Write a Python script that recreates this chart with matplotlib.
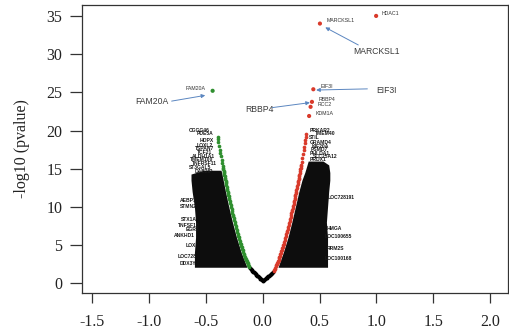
import matplotlib
matplotlib.use("Agg")
import matplotlib.pyplot as plt

plt.rcParams['axes.unicode_minus'] = False

# ---------------- data ----------------
# down-regulated (green) genes: log2 fold change and -log10(p)
green_lfc = [-0.397, -0.394, -0.389, -0.384, -0.376, -0.372, -0.367, -0.361, -0.356, -0.351,
             -0.349, -0.346, -0.344, -0.342, -0.340, -0.337, -0.335, -0.332, -0.329, -0.326,
             -0.324, -0.322, -0.319, -0.316, -0.313, -0.310, -0.307, -0.304, -0.301, -0.299,
             -0.296, -0.293, -0.289, -0.286, -0.282, -0.278, -0.274, -0.270, -0.266, -0.262,
             -0.258, -0.254, -0.250, -0.246, -0.242, -0.238, -0.233, -0.229, -0.224, -0.220,
             -0.215, -0.210, -0.205, -0.200, -0.196, -0.192, -0.188, -0.184, -0.180, -0.175,
             -0.171, -0.166, -0.161, -0.156, -0.153, -0.149, -0.145, -0.141, -0.137, -0.133,
             -0.130, -0.126, -0.122, -0.118]
green_p = [19.2, 18.9, 18.5, 18.0, 17.4, 17.0, 16.6, 16.1, 15.7, 15.3,
           15.1, 14.9, 14.75, 14.6, 14.4, 14.2, 14.0, 13.8, 13.6, 13.4,
           13.25, 13.1, 12.85, 12.6, 12.4, 12.2, 12.0, 11.8, 11.6, 11.4,
           11.2, 11.0, 10.75, 10.5, 10.25, 10.0, 9.75, 9.5, 9.25, 9.0,
           8.75, 8.5, 8.25, 8.0, 7.75, 7.5, 7.25, 7.0, 6.75, 6.5,
           6.25, 6.0, 5.75, 5.5, 5.3, 5.1, 4.9, 4.7, 4.5, 4.3,
           4.1, 3.9, 3.7, 3.5, 3.35, 3.2, 3.05, 2.9, 2.75, 2.6,
           2.475, 2.35, 2.225, 2.1]

# up-regulated (red) genes
red_lfc = [0.384, 0.381, 0.376, 0.371, 0.366, 0.361, 0.355, 0.349, 0.343, 0.338,
           0.336, 0.334, 0.331, 0.329, 0.326, 0.322, 0.320, 0.317, 0.315, 0.312,
           0.310, 0.307, 0.304, 0.300, 0.297, 0.294, 0.291, 0.288, 0.285, 0.283,
           0.280, 0.277, 0.274, 0.271, 0.268, 0.264, 0.260, 0.257, 0.253, 0.249,
           0.245, 0.241, 0.237, 0.233, 0.229, 0.225, 0.220, 0.216, 0.212, 0.207,
           0.203, 0.198, 0.193, 0.189, 0.185, 0.181, 0.177, 0.173, 0.168, 0.164,
           0.160, 0.155, 0.151, 0.146, 0.143, 0.139, 0.135, 0.131, 0.127, 0.123,
           0.119, 0.115, 0.111, 0.106, 0.101, 0.096]
red_p = [19.5, 19.2, 18.8, 18.3, 17.9, 17.4, 16.9, 16.4, 15.9, 15.5,
         15.3, 15.1, 14.9, 14.7, 14.45, 14.2, 14.0, 13.8, 13.6, 13.4,
         13.2, 13.0, 12.75, 12.5, 12.25, 12.0, 11.8, 11.6, 11.4, 11.2,
         11.0, 10.8, 10.6, 10.4, 10.15, 9.9, 9.65, 9.4, 9.15, 8.9,
         8.65, 8.4, 8.15, 7.9, 7.65, 7.4, 7.15, 6.9, 6.65, 6.4,
         6.15, 5.9, 5.65, 5.4, 5.2, 5.0, 4.8, 4.6, 4.4, 4.2,
         4.0, 3.8, 3.6, 3.4, 3.25, 3.1, 2.95, 2.8, 2.65, 2.5,
         2.35, 2.2, 2.05, 1.9, 1.75, 1.6]

# not significant (black)
ns_lfc = [-0.112, -0.105, -0.098, -0.091, -0.084, -0.077, -0.070, -0.063, -0.056, -0.049,
          -0.042, -0.035, -0.028, -0.021, -0.014, -0.007, 0.0, 0.007, 0.014, 0.021,
          0.028, 0.035, 0.042, 0.049, 0.056, 0.063, 0.070, 0.077, 0.084, 0.091]
ns_p = [1.95, 1.85, 1.74, 1.64, 1.54, 1.43, 1.33, 1.23, 1.12, 1.02,
        0.92, 0.81, 0.71, 0.61, 0.51, 0.40, 0.30, 0.39, 0.48, 0.56,
        0.65, 0.74, 0.83, 0.92, 1.00, 1.09, 1.18, 1.27, 1.36, 1.45]

# highlighted genes
top_genes = ["HDAC1", "MARCKSL1", "EIF3I", "RBBP4", "RCC2", "KDM1A", "FAM20A"]
top_lfc = [0.997, 0.503, 0.445, 0.433, 0.421, 0.408, -0.440]
top_p = [35.0, 34.0, 25.4, 23.75, 23.1, 21.9, 25.2]
top_colors = ["#d93a2b"] * 6 + ["#2f8f2f"]

# callouts: gene, label x, label y, arrow tail x/y, arrow head x/y
call_genes = ["MARCKSL1", "EIF3I", "RBBP4", "FAM20A"]
call_lx = [1.00, 1.09, -0.03, -0.975]
call_ly = [30.3, 25.3, 22.7, 23.8]
call_tx = [0.84, 0.92, 0.085, -0.80]
call_ty = [31.2, 25.45, 23.0, 23.85]
call_hx = [0.55, 0.47, 0.415, -0.505]
call_hy = [33.5, 25.3, 23.65, 24.6]

# dense overlapping gene-label region (extent)
lband_y = [2.1, 4.0, 6.0, 8.0, 10.0, 12.0, 13.5, 14.3, 14.8]
lband_in = [-0.138, -0.188, -0.230, -0.266, -0.298, -0.327, -0.347, -0.358, -0.366]
lband_out = [-0.60, -0.60, -0.59, -0.59, -0.60, -0.62, -0.63, -0.63, -0.52]
rband_y = [2.1, 4.0, 6.0, 8.0, 10.0, 12.0, 13.5, 14.5, 15.5, 16.0]
rband_in = [0.135, 0.180, 0.222, 0.256, 0.287, 0.318, 0.345, 0.370, 0.390, 0.400]
rband_out = [0.57, 0.57, 0.57, 0.56, 0.57, 0.58, 0.59, 0.59, 0.58, 0.53]

# gene labels visible around the dense region
left_labels = ["CGGG46", "PDE5A", "HOPX", "LOXL2", "TSPAN7", "TCF21", "ALDH1A1", "TMEM100",
               "TNFRSF11", "ST3GAL5", "DAB2IP", "AEBP1", "STMN2", "STX1A", "TNFSF10", "EGR3",
               "ANKHD1", "LOX", "LOC728", "DDX3Y"]
left_lx = [-0.47, -0.43, -0.43, -0.44, -0.43, -0.44, -0.42, -0.43,
           -0.40, -0.45, -0.44, -0.58, -0.58, -0.58, -0.55, -0.56,
           -0.60, -0.59, -0.58, -0.58]
left_ly = [19.95, 19.55, 18.7, 18.1, 17.6, 17.1, 16.6, 16.15,
           15.7, 15.1, 14.6, 10.9, 10.0, 8.3, 7.6, 7.0,
           6.2, 4.9, 3.5, 2.6]
right_labels = ["PRKAR2", "TMEM40", "STIL", "GRAMD4", "KIF20A", "PSMD7", "PHLDA1", "SLC25A12",
                "PRDX1", "LOC728191", "HMGA", "LOC100655", "RRM2S", "LOC100168"]
right_lx = [0.41, 0.46, 0.41, 0.41, 0.43, 0.42, 0.41, 0.44,
            0.41, 0.57, 0.56, 0.54, 0.56, 0.54]
right_ly = [19.95, 19.6, 19.05, 18.45, 17.95, 17.45, 16.95, 16.6,
            16.2, 11.25, 7.2, 6.1, 4.6, 3.3]

xticks = [-1.5, -1.0, -0.5, 0.0, 0.5, 1.0, 1.5, 2.0]
yticks = [0, 5, 10, 15, 20, 25, 30, 35]

# ---------------- figure ----------------
fig = plt.figure(figsize=(5.09, 3.31), dpi=100)
ax = fig.add_axes([82 / 509, 38 / 331, 426 / 509, 288 / 331])
ax.set_xlim(-1.588, 2.156)
ax.set_ylim(-1.27, 36.43)

# dense label masses
ax.fill_betweenx(lband_y, lband_out, lband_in, color="#0d0d0d", lw=0, zorder=2)
ax.fill_betweenx(rband_y, rband_in, rband_out, color="#0d0d0d", lw=0, zorder=2)

lab_font = dict(family="Liberation Sans", fontsize=3.6, color="#1a1a1a", fontweight="bold")
for t, x, y in zip(left_labels, left_lx, left_ly):
    ax.text(x, y, t, ha="right", va="center", zorder=3, **lab_font)
for t, x, y in zip(right_labels, right_lx, right_ly):
    ax.text(x, y, t, ha="left", va="center", zorder=3, **lab_font)

# points
ax.scatter(ns_lfc, ns_p, s=8, color="black", lw=0, zorder=4)
ax.scatter(green_lfc, green_p, s=7, color="#2f8f2f", lw=0, zorder=4)
ax.scatter(red_lfc, red_p, s=7, color="#d93a2b", lw=0, zorder=4)
ax.scatter(top_lfc, top_p, s=9, color=top_colors, lw=0, zorder=4)

# small labels of highlighted genes
small_font = dict(family="Liberation Sans", fontsize=3.8, color="#333333")
for g, x, y in zip(top_genes, top_lfc, top_p):
    if g == "FAM20A":
        ax.text(x - 0.06, y + 0.3, g, ha="right", va="center", **small_font)
    elif g == "HDAC1":
        ax.text(x + 0.05, y + 0.3, g, ha="left", va="center", **small_font)
    else:
        ax.text(x + 0.06, y + 0.35, g, ha="left", va="center", **small_font)

# call-outs
for g, lx, ly, tx, ty, hx, hy in zip(call_genes, call_lx, call_ly, call_tx, call_ty, call_hx, call_hy):
    ax.text(lx, ly, g, ha="center", va="center", family="Liberation Sans",
            fontsize=6.2, color="#3a3a3a", zorder=5)
    ax.annotate("", xy=(hx, hy), xytext=(tx, ty),
                arrowprops=dict(arrowstyle="-|>", color="#5b86c0", lw=0.7,
                                mutation_scale=5.5, shrinkA=0, shrinkB=0), zorder=5)

# axes styling
for s in ax.spines.values():
    s.set_color("#333333")
    s.set_linewidth(0.9)
ax.set_xticks(xticks)
ax.set_xticklabels([f"{v:.1f}" for v in xticks])
ax.set_yticks(yticks)
ax.set_yticklabels([str(v) for v in yticks])
ax.tick_params(axis="x", length=7, width=0.9, color="#333333", pad=8)
ax.tick_params(axis="y", length=9, width=0.9, color="#333333", pad=5)
for lab in ax.get_xticklabels() + ax.get_yticklabels():
    lab.set_fontfamily("Liberation Serif")
    lab.set_fontsize(11.5)
    lab.set_color("#222222")
ax.set_ylabel("-log10 (pvalue)", family="Liberation Serif", fontsize=11.5,
              color="#222222", labelpad=12)

fig.savefig("out.png", dpi=100)
